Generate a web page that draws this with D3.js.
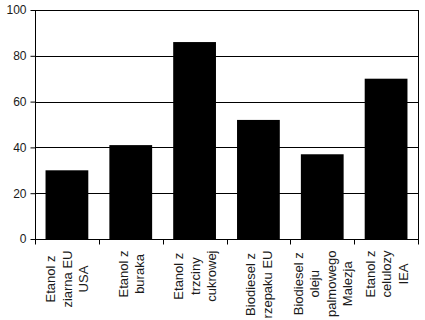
<!DOCTYPE html>
<html>
<head>
<meta charset="utf-8">
<script src="https://cdn.jsdelivr.net/npm/d3@7"></script>
<style>
  body { margin: 0; background: #fff; }
  text { font-family: Arial, "Liberation Sans", sans-serif; fill: #1a1a1a; }
</style>
</head>
<body>
<div id="chart"></div>
<script>
const categories = [
  ["Etanol z", "ziarna EU", "USA"],
  ["Etanol z", "buraka"],
  ["Etanol z", "trzciny", "cukrowej"],
  ["Biodiesel z", "rzepaku EU"],
  ["Biodiesel z", "oleju", "palmowego", "Malezja"],
  ["Etanol z", "celulozy", "IEA"]
];
const values = [30, 41, 86, 52, 37, 70];
const yTicks = [0, 20, 40, 60, 80, 100];

const MARGIN = {top: 10, right: 7, bottom: 81, left: 35};
const WIDTH = 425 - MARGIN.left - MARGIN.right;
const HEIGHT = 320 - MARGIN.top - MARGIN.bottom;

const svg = d3.select("#chart")
  .append("svg")
    .attr("width", 425)
    .attr("height", 320)
  .append("g")
    .attr("transform", `translate(${MARGIN.left},${MARGIN.top})`);

const x = d3.scaleBand()
  .domain(d3.range(categories.length))
  .range([0, WIDTH])
  .paddingInner(0.33)
  .paddingOuter(0.165);

const y = d3.scaleLinear()
  .domain([0, 100])
  .range([HEIGHT, 0]);

// gridlines
svg.append("g")
  .selectAll("line")
  .data(yTicks.filter(d => d > 0))
  .enter().append("line")
    .attr("x1", 0)
    .attr("x2", WIDTH)
    .attr("y1", d => Math.round(y(d)) + 0.5)
    .attr("y2", d => Math.round(y(d)) + 0.5)
    .attr("stroke", "#000");

// right border
svg.append("line")
  .attr("x1", WIDTH + 0.5).attr("x2", WIDTH + 0.5)
  .attr("y1", 0).attr("y2", HEIGHT)
  .attr("stroke", "#000");

// bars
svg.selectAll("rect")
  .data(values)
  .enter().append("rect")
    .attr("x", (d, i) => x(i))
    .attr("y", d => y(d))
    .attr("width", x.bandwidth())
    .attr("height", d => HEIGHT - y(d))
    .attr("fill", "#000");

// y axis
const yAxis = svg.append("g")
  .attr("transform", "translate(0.5,0)")
  .call(d3.axisLeft(y).tickValues(yTicks).tickSize(5).tickPadding(4));
yAxis.select(".domain").attr("d", `M0,0V${HEIGHT}`);
yAxis.selectAll("text").style("font-size", "12px");

// x axis: ticks at category boundaries
const step = WIDTH / categories.length;
const xAxis = svg.append("g")
  .attr("transform", `translate(0,${Math.round(HEIGHT) + 0.5})`);
xAxis.append("line")
  .attr("x1", 0).attr("x2", WIDTH + 1)
  .attr("stroke", "#000");
xAxis.selectAll(".tick")
  .data(d3.range(categories.length + 1))
  .enter().append("line")
    .attr("x1", d => Math.round(d * step) + 0.5)
    .attr("x2", d => Math.round(d * step) + 0.5)
    .attr("y1", 0).attr("y2", 5)
    .attr("stroke", "#000");

// rotated, multi-line category labels
const labels = xAxis.selectAll(".lbl")
  .data(categories)
  .enter().append("text")
    .attr("class", "lbl")
    .style("font-size", "13px")
    .attr("text-anchor", "middle");

labels.each(function(lines, i) {
  const t = d3.select(this);
  const lh = 16.5;
  lines.forEach(s => t.append("tspan").text(s));
  const maxLen = d3.max(t.selectAll("tspan").nodes(), n => n.getComputedTextLength());
  const cx = x(i) + x.bandwidth() / 2;
  t.attr("transform", `translate(${cx},11) rotate(-90)`);
  t.selectAll("tspan")
    .attr("x", -maxLen / 2)
    .attr("y", (s, j) => (j - (lines.length - 1) / 2) * lh + 5);
});
</script>
</body>
</html>
